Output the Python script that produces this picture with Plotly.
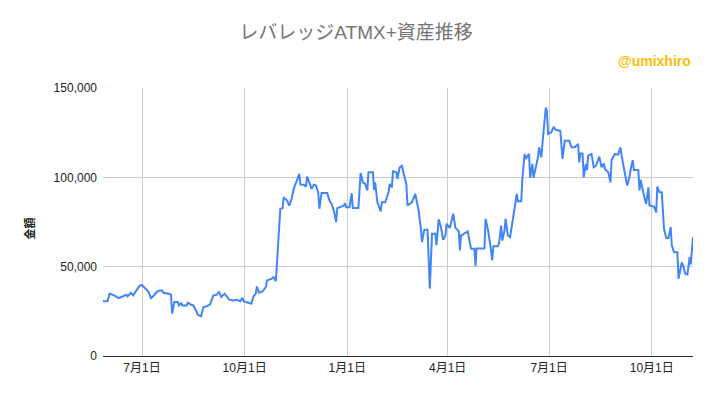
import plotly.graph_objects as go

dates = [
    "2022-05-27", "2022-05-31", "2022-06-02", "2022-06-06", "2022-06-10", "2022-06-14", "2022-06-17",
    "2022-06-18", "2022-06-21", "2022-06-23", "2022-06-26", "2022-06-29", "2022-07-01", "2022-07-04",
    "2022-07-07", "2022-07-09", "2022-07-11", "2022-07-14", "2022-07-17", "2022-07-19", "2022-07-20",
    "2022-07-25", "2022-07-27", "2022-07-28", "2022-07-30", "2022-08-02", "2022-08-03", "2022-08-05",
    "2022-08-06", "2022-08-10", "2022-08-11", "2022-08-14", "2022-08-16", "2022-08-18", "2022-08-20",
    "2022-08-23", "2022-08-25", "2022-08-28", "2022-08-31", "2022-09-03", "2022-09-06", "2022-09-08",
    "2022-09-10", "2022-09-13", "2022-09-17", "2022-09-21", "2022-09-24", "2022-09-27", "2022-09-29",
    "2022-09-30", "2022-10-05", "2022-10-07", "2022-10-09", "2022-10-11", "2022-10-12", "2022-10-14",
    "2022-10-17", "2022-10-20", "2022-10-21", "2022-10-25", "2022-10-27", "2022-10-29", "2022-11-02",
    "2022-11-04", "2022-11-05", "2022-11-08", "2022-11-10", "2022-11-12", "2022-11-14", "2022-11-17",
    "2022-11-19", "2022-11-20", "2022-11-23", "2022-11-25", "2022-11-26", "2022-11-29", "2022-11-30",
    "2022-12-02", "2022-12-04", "2022-12-06", "2022-12-07", "2022-12-09", "2022-12-14", "2022-12-16",
    "2022-12-18", "2022-12-20", "2022-12-22", "2022-12-23", "2022-12-26", "2022-12-29", "2022-12-30",
    "2022-12-31", "2023-01-03", "2023-01-05", "2023-01-06", "2023-01-11", "2023-01-13", "2023-01-15",
    "2023-01-17", "2023-01-19", "2023-01-20", "2023-01-24", "2023-01-25", "2023-01-26", "2023-01-28",
    "2023-01-31", "2023-02-01", "2023-02-04", "2023-02-07", "2023-02-08", "2023-02-10", "2023-02-11",
    "2023-02-14", "2023-02-15", "2023-02-17", "2023-02-19", "2023-02-21", "2023-02-23", "2023-02-24",
    "2023-02-28", "2023-03-03", "2023-03-04", "2023-03-06", "2023-03-08", "2023-03-09", "2023-03-11",
    "2023-03-14", "2023-03-16", "2023-03-18", "2023-03-21", "2023-03-22", "2023-03-24", "2023-03-26",
    "2023-03-28", "2023-03-30", "2023-03-31", "2023-04-03", "2023-04-06", "2023-04-08", "2023-04-10",
    "2023-04-11", "2023-04-12", "2023-04-13", "2023-04-19", "2023-04-22", "2023-04-25", "2023-04-26",
    "2023-04-27", "2023-05-04", "2023-05-05", "2023-05-07", "2023-05-09", "2023-05-11", "2023-05-12",
    "2023-05-16", "2023-05-17", "2023-05-19", "2023-05-20", "2023-05-22", "2023-05-23", "2023-05-25",
    "2023-05-27", "2023-05-29", "2023-05-31", "2023-06-02", "2023-06-03", "2023-06-06", "2023-06-07",
    "2023-06-09", "2023-06-10", "2023-06-13", "2023-06-14", "2023-06-16", "2023-06-17", "2023-06-19",
    "2023-06-21", "2023-06-22", "2023-06-24", "2023-06-25", "2023-06-26", "2023-06-28", "2023-06-29",
    "2023-06-30", "2023-07-03", "2023-07-05", "2023-07-07", "2023-07-11", "2023-07-13", "2023-07-15",
    "2023-07-19", "2023-07-21", "2023-07-24", "2023-07-27", "2023-07-28", "2023-07-29", "2023-07-31",
    "2023-08-01", "2023-08-03", "2023-08-04", "2023-08-05", "2023-08-08", "2023-08-10", "2023-08-12",
    "2023-08-15", "2023-08-17", "2023-08-19", "2023-08-20", "2023-08-23", "2023-08-25", "2023-08-26",
    "2023-08-29", "2023-09-01", "2023-09-03", "2023-09-04", "2023-09-06", "2023-09-07", "2023-09-09",
    "2023-09-11", "2023-09-12", "2023-09-14", "2023-09-15", "2023-09-19", "2023-09-20", "2023-09-21",
    "2023-09-24", "2023-09-26", "2023-09-28", "2023-09-29", "2023-10-03", "2023-10-05", "2023-10-06",
    "2023-10-08", "2023-10-10", "2023-10-12", "2023-10-14", "2023-10-16", "2023-10-18", "2023-10-19",
    "2023-10-21", "2023-10-24", "2023-10-25", "2023-10-27", "2023-10-28", "2023-10-30", "2023-10-31",
    "2023-11-02", "2023-11-04", "2023-11-05", "2023-11-07",
]

values = [
    30700, 30700, 34900, 33900, 32400, 33400, 34300,
    33400, 35400, 33900, 36700, 39500, 39700, 37600,
    35800, 32400, 33400, 35800, 36700, 36700, 35400,
    34900, 34300, 23700, 30200, 30200, 28300, 29600,
    28300, 28300, 29800, 28700, 28300, 25900, 23100,
    22200, 27400, 27800, 28900, 33900, 34300, 36100,
    33000, 34900, 31700, 31100, 31500, 30700, 32600,
    30700, 29600, 29300, 33400, 34900, 38900, 35400,
    36100, 38500, 42300, 43200, 44100, 41900, 82400,
    82700, 88800, 87000, 84200, 87900, 93500, 99100,
    101900, 95900, 95800, 94800, 100400, 95500, 93500,
    95900, 95400, 91300, 82400, 91300, 91300, 87000,
    85100, 81400, 74900, 82700, 83600, 84200, 85500,
    83200, 83200, 91100, 82900, 82900, 102400, 97200,
    96300, 92600, 102800, 102800, 93000, 97200, 86000,
    81000, 86000, 86000, 91600, 96300, 94400, 103400,
    102800, 99100, 105600, 106500, 101000, 96300, 84200,
    86000, 90700, 87900, 81400, 71200, 63700, 70600,
    70600, 37700, 68400, 68400, 62000, 76500, 72100,
    65000, 67400, 74000, 71700, 79600, 71700, 70600,
    69500, 59100, 67400, 69800, 60000, 60000, 50400,
    60200, 60200, 76800, 71200, 63400, 53500, 61400,
    61400, 62800, 73000, 64600, 70200, 76800, 67400,
    66500, 74900, 82900, 90700, 86600, 86600, 99100,
    113100, 110300, 113100, 99700, 107500, 99700, 105600,
    111200, 116800, 111200, 118700, 124300, 139100, 137300,
    124300, 125200, 128300, 126500, 126100, 110300, 120500,
    120500, 116800, 116800, 118700, 108400, 113400, 113400,
    100000, 107500, 104000, 112100, 113100, 105600, 106500,
    111600, 105600, 107800, 104700, 102800, 97200, 109700,
    113100, 112700, 116800, 112100, 103700, 101900, 95400,
    100000, 104100, 109700, 104100, 104100, 92600, 98600,
    89800, 85100, 94400, 84200, 83600, 80400, 94800,
    91600, 91600, 71200, 66100, 66100, 72100, 61800,
    58100, 58100, 43200, 49700, 52500, 48800, 46000,
    45600, 55300, 51200, 66500,
]

title_text = "レバレッジATMX+資産推移"
credit_text = "@umixhiro"
y_title = "金額"
y_ticks = [0, 50000, 100000, 150000]

font_family = "'Liberation Sans', Arial, 'Noto Sans CJK JP', sans-serif"

fig = go.Figure()
fig.add_trace(go.Scatter(
    x=dates, y=values, mode="lines",
    line=dict(color="#4285F4", width=2),
    hoverinfo="skip", showlegend=False,
))

fig.update_layout(
    width=712, height=396,
    margin=dict(l=103, r=19, t=88, b=40),
    paper_bgcolor="white", plot_bgcolor="white",
    font=dict(family=font_family, size=12, color="#222222"),
    title=dict(text=title_text, x=0.5, xanchor="center", y=0.918, yanchor="middle",
               font=dict(family=font_family, size=19, color="#757575")),
    annotations=[
        dict(text="<b>" + credit_text + "</b>", xref="paper", yref="paper",
             x=1.0, y=1.102, xanchor="right", yanchor="middle", showarrow=False,
             font=dict(family=font_family, size=14, color="#FBBC04")),
        dict(text="<b>" + y_title + "</b>", xref="paper", yref="paper",
             x=-0.124, y=0.475, xanchor="center", yanchor="middle", showarrow=False,
             textangle=-90, font=dict(family=font_family, size=11, color="#222222")),
    ],
    xaxis=dict(
        type="date", range=[dates[0], dates[-1]],
        tick0="2022-07-01", dtick="M3", tickformat="%-m月%-d日",
        showgrid=True, gridcolor="#cccccc", gridwidth=1,
        showline=False, zeroline=False, ticks="", ticklen=0,
        ticklabelstandoff=3,
        tickfont=dict(family=font_family, size=12, color="#222222"),
    ),
    yaxis=dict(
        range=[0, 150000], tickvals=y_ticks, tickformat=",d",
        showgrid=True, gridcolor="#cccccc", gridwidth=1,
        zeroline=True, zerolinecolor="#333333", zerolinewidth=1,
        showline=False, ticks="", ticklen=0,
        ticklabelstandoff=5,
        tickfont=dict(family=font_family, size=12, color="#222222"),
    ),
    separators=".,",
)

fig.write_html("out.html")
